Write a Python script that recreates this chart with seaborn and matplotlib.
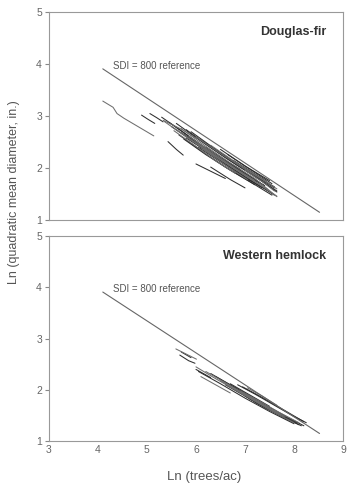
import numpy as np
import pandas as pd
import matplotlib
matplotlib.use("Agg")
import matplotlib.pyplot as plt
import seaborn as sns

# SDI = 800 reference line (ln trees/ac, ln QMD)
ref_x = [4.10, 8.52]
ref_y = [3.91, 1.15]

# Douglas-fir stand trajectories
df_x = [
    [4.10, 4.31, 4.39, 4.53, 5.14],
    [4.89, 5.02, 5.16],
    [5.06, 5.20, 5.33],
    [5.33, 5.70, 6.01],
    [5.43, 5.60, 5.74],
    [5.30, 5.70, 6.10, 6.50, 6.90],
    [5.35, 5.80, 6.30, 6.80, 7.20],
    [5.45, 5.90, 6.40, 6.90, 7.40],
    [5.50, 6.00, 6.50, 7.00, 7.60],
    [5.55, 6.00, 6.40, 6.80],
    [5.60, 6.10, 6.60, 7.10, 7.65],
    [5.65, 6.10, 6.60, 7.10, 7.55],
    [5.70, 6.20, 6.70, 7.20, 7.65],
    [5.75, 6.20, 6.70, 7.20],
    [5.80, 6.30, 6.80, 7.30, 7.65],
    [5.85, 6.30, 6.80, 7.30],
    [5.90, 6.40, 6.90, 7.40],
    [5.95, 6.40, 6.90, 7.35],
    [6.00, 6.50, 7.00, 7.50],
    [6.05, 6.50, 7.00, 7.45],
    [6.10, 6.60, 7.10, 7.60],
    [6.15, 6.60, 7.05],
    [6.20, 6.70, 7.20, 7.60],
    [6.25, 6.70, 7.10],
    [6.30, 6.80, 7.30, 7.65],
    [6.40, 6.90, 7.40],
    [6.50, 7.00, 7.50],
    [6.55, 7.00, 7.45],
    [6.65, 7.10, 7.55],
    [6.76, 7.10, 7.44],
    [6.90, 7.30, 7.65],
    [6.00, 6.30, 6.60],
    [6.30, 6.70, 7.00],
    [7.00, 7.35, 7.60],
    [5.70, 6.10, 6.50, 6.90],
    [5.80, 6.20, 6.60, 7.00],
    [6.00, 6.40, 6.80, 7.20],
    [6.10, 6.50, 6.90, 7.30],
    [6.20, 6.60, 7.00, 7.40],
    [5.60, 6.00, 6.40],
]
df_y = [
    [3.29, 3.17, 3.05, 2.96, 2.62],
    [3.02, 2.94, 2.86],
    [3.05, 2.97, 2.89],
    [2.92, 2.75, 2.57],
    [2.51, 2.36, 2.25],
    [2.98, 2.72, 2.45, 2.20, 1.98],
    [2.90, 2.60, 2.28, 1.98, 1.76],
    [2.88, 2.58, 2.24, 1.94, 1.66],
    [2.80, 2.48, 2.14, 1.84, 1.48],
    [2.72, 2.42, 2.14, 1.90],
    [2.86, 2.52, 2.20, 1.90, 1.56],
    [2.64, 2.34, 2.02, 1.74, 1.48],
    [2.76, 2.42, 2.10, 1.80, 1.45],
    [2.56, 2.26, 1.96, 1.68],
    [2.74, 2.40, 2.08, 1.78, 1.54],
    [2.62, 2.30, 1.98, 1.68],
    [2.70, 2.36, 2.04, 1.76],
    [2.50, 2.20, 1.88, 1.62],
    [2.60, 2.28, 1.98, 1.70],
    [2.40, 2.12, 1.82, 1.58],
    [2.54, 2.22, 1.92, 1.62],
    [2.36, 2.06, 1.78],
    [2.48, 2.16, 1.86, 1.64],
    [2.30, 2.00, 1.76],
    [2.44, 2.12, 1.82, 1.60],
    [2.26, 1.94, 1.66],
    [2.36, 2.04, 1.76],
    [2.14, 1.86, 1.60],
    [2.26, 1.98, 1.70],
    [2.15, 1.95, 1.74],
    [1.92, 1.68, 1.46],
    [2.08, 1.94, 1.80],
    [2.02, 1.78, 1.62],
    [1.96, 1.74, 1.56],
    [2.68, 2.44, 2.18, 1.94],
    [2.58, 2.34, 2.08, 1.84],
    [2.52, 2.26, 2.00, 1.76],
    [2.44, 2.20, 1.96, 1.72],
    [2.40, 2.14, 1.90, 1.66],
    [2.74, 2.48, 2.22],
]

# Western hemlock stand trajectories
wh_x = [
    [5.59, 5.80, 6.01],
    [5.67, 5.85, 5.98],
    [5.70, 5.90],
    [6.00, 6.40, 6.80, 7.20, 7.60, 8.00],
    [6.05, 6.50, 7.00, 7.50, 8.00],
    [6.00, 6.30],
    [6.20, 6.60, 7.00, 7.40, 7.80],
    [6.30, 6.70, 7.10, 7.50, 7.90, 8.20],
    [6.40, 6.80, 7.20, 7.60, 8.05],
    [6.50, 6.90, 7.30, 7.70],
    [6.60, 7.00, 7.40, 7.80, 8.15],
    [6.85, 7.20, 7.60, 8.00, 8.25],
    [6.90, 7.30, 7.70, 8.10],
    [6.95, 7.30, 7.70, 8.20],
    [7.00, 7.40, 7.80, 8.10],
    [7.05, 7.35, 7.65],
    [7.10, 7.50, 7.90],
    [6.70, 7.10, 7.50],
    [6.10, 6.40, 6.70],
    [7.20, 7.60, 8.00],
]
wh_y = [
    [2.80, 2.70, 2.60],
    [2.68, 2.57, 2.52],
    [2.74, 2.63],
    [2.45, 2.22, 2.00, 1.78, 1.56, 1.36],
    [2.36, 2.12, 1.84, 1.58, 1.34],
    [2.40, 2.24],
    [2.36, 2.14, 1.92, 1.70, 1.48],
    [2.32, 2.10, 1.88, 1.66, 1.45, 1.30],
    [2.26, 2.04, 1.80, 1.58, 1.36],
    [2.18, 1.96, 1.74, 1.52],
    [2.10, 1.88, 1.66, 1.46, 1.30],
    [2.10, 1.92, 1.70, 1.48, 1.36],
    [1.98, 1.78, 1.56, 1.36],
    [2.06, 1.88, 1.66, 1.38],
    [1.88, 1.66, 1.46, 1.32],
    [2.04, 1.88, 1.70],
    [1.82, 1.62, 1.42],
    [2.12, 1.90, 1.68],
    [2.26, 2.10, 1.94],
    [1.76, 1.56, 1.36],
]

sns.set_style("white")
plt.rcParams['font.family'] = ['Liberation Sans', 'DejaVu Sans']

fig = plt.figure(figsize=(3.49, 4.88), dpi=100)
ax1 = fig.add_axes([0.140, 0.549, 0.843, 0.426])
ax2 = fig.add_axes([0.140, 0.096, 0.843, 0.420])


def draw_panel(ax, xs, ys, title, labels):
    rows = []
    for i, (xx, yy) in enumerate(zip(xs, ys)):
        for a, b in zip(xx, yy):
            rows.append((i, i % 3 == 0, a, b))
    d = pd.DataFrame(rows, columns=['stand', 'light', 'lntpa', 'lnqmd'])
    sns.lineplot(data=d[~d.light], x='lntpa', y='lnqmd', units='stand', estimator=None,
                 color='#2e2e2e', linewidth=0.75, sort=False, ax=ax, legend=False)
    sns.lineplot(data=d[d.light], x='lntpa', y='lnqmd', units='stand', estimator=None,
                 color='#6e6e6e', linewidth=0.75, sort=False, ax=ax, legend=False)
    sns.lineplot(x=ref_x, y=ref_y, color='#666666', linewidth=0.8, ax=ax)
    ax.text(4.31, 3.97, 'SDI = 800 reference', fontsize=7, color='#555555', va='center')
    ax.text(8.65, 4.62, title, fontsize=9, fontweight='bold', color='#333333',
            ha='right', va='center')
    ax.set_xlim(3, 9)
    ax.set_ylim(1, 5)
    ax.set_xticks(range(3, 10))
    ax.set_yticks(range(1, 6))
    ax.tick_params(axis='x', direction='in', length=3, color='#888888',
                   labelsize=7.5, labelcolor='#666666', pad=3, labelbottom=labels)
    ax.tick_params(axis='y', direction='out', length=3, color='#888888',
                   labelsize=7.5, labelcolor='#666666', pad=2, left=True)
    ax.set_xlabel('')
    ax.set_ylabel('')
    for s in ax.spines.values():
        s.set_color('#999999')
        s.set_linewidth(0.8)


draw_panel(ax1, df_x, df_y, 'Douglas-fir', False)
draw_panel(ax2, wh_x, wh_y, 'Western hemlock', True)

fig.text(0.040, 0.607, 'Ln (quadratic mean diameter, in.)', rotation=90,
         ha='center', va='center', fontsize=9, color='#555555')
fig.text(0.586, 0.022, 'Ln (trees/ac)', ha='center', va='center',
         fontsize=9.5, color='#555555')

fig.savefig('out.png', dpi=100)
